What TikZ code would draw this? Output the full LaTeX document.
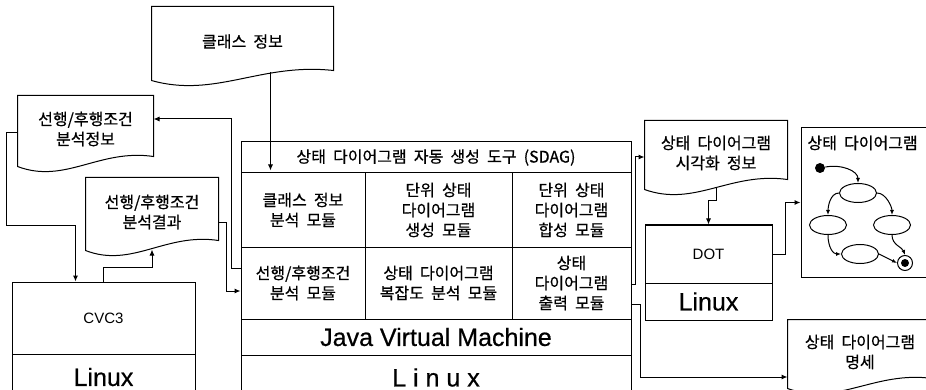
\documentclass[tikz,border=0pt]{standalone}
\usepackage{fontspec}
\setmainfont{Liberation Sans}
\newfontfamily\krfont[WordSpace=2,FakeBold=0.6]{Noto Sans CJK KR}
\newfontfamily\heavyfont[FakeBold=0.6]{Liberation Sans}
\usetikzlibrary{shapes.geometric,arrows.meta,calc}

% document outline with a wavy bottom edge around a named node
\newcommand{\docoutline}[1]{%
  \draw (#1.north west) -- (#1.north east) -- ([yshift=6pt]#1.south east)
    .. controls ($(#1.south west)!0.6!(#1.south east)+(0pt,14pt)$)
    and ($(#1.south west)!0.35!(#1.south east)+(0pt,-22pt)$)
    .. ([yshift=-4pt]#1.south west) -- cycle;}

\begin{document}
\begin{tikzpicture}[x=1pt, y=-1pt, line width=1pt, >={Latex[length=6pt,width=5pt]},
  box/.style={draw, rectangle, inner sep=0pt},
  doc/.style={rectangle, inner sep=0pt, align=center},
  kr/.style={font=\krfont\fontsize{16}{20}\selectfont, align=center},
  big/.style={font=\heavyfont\fontsize{25}{30}\selectfont},
  small/.style={font=\fontsize{15}{18}\selectfont},
  stnode/.style={ellipse, draw, minimum width=37pt, minimum height=19pt, inner sep=0pt},
  startdot/.style={circle, fill=black, minimum size=10pt, inner sep=0pt},
  sarr/.style={-{Latex[length=5pt,width=4pt]}}]
\useasboundingbox (0,0) rectangle (926,390);
\clip (0,0) rectangle (926,390);

% documents
\begin{scope}[every node/.style={doc, kr}]
\node[minimum width=181pt, minimum height=69pt] (cls) at (242.5,41.5) {클래스 정보};
\node[minimum width=135pt, minimum height=66pt] (preinfo) at (85.5,129) {선행/후행조건\\분석정보};
\node[minimum width=132pt, minimum height=68pt] (preres) at (152,212) {선행/후행조건\\분석결과};
\node[minimum width=142pt, minimum height=64pt] (visinfo) at (716,153) {상태 다이어그램\\시각화 정보};
\node[minimum width=144pt, minimum height=64pt] (spec) at (860,352) {상태 다이어그램\\명세};
\end{scope}
\foreach \docname in {cls,preinfo,preres,visinfo,spec} {\docoutline{\docname}}

% SDAG stack
\node[box, kr, minimum width=390pt, minimum height=31pt] (title) at (436,157.5) {상태 다이어그램 자동 생성 도구 (SDAG)};
\node[box, kr, minimum width=124pt, minimum height=74pt] (c11) at (303,210) {클래스 정보\\분석 모듈};
\node[box, kr, minimum width=147pt, minimum height=74pt] (c12) at (438.5,210) {단위 상태\\다이어그램\\생성 모듈};
\node[box, kr, minimum width=119pt, minimum height=74pt] (c13) at (571.5,210) {단위 상태\\다이어그램\\합성 모듈};
\node[box, kr, minimum width=124pt, minimum height=72pt] (c21) at (303,283) {선행/후행조건\\분석 모듈};
\node[box, kr, minimum width=147pt, minimum height=72pt] (c22) at (438.5,283) {상태 다이어그램\\복잡도 분석 모듈};
\node[box, kr, minimum width=119pt, minimum height=72pt] (c23) at (571.5,283) {상태\\다이어그램\\출력 모듈};
\node[box, big, minimum width=390pt, minimum height=36pt] (jvm) at (436,337) {Java Virtual Machine};
\node[box, big, minimum width=390pt, minimum height=45pt] (oslinux) at (436,377.5) {L i n u x};

% CVC3 and DOT
\node[box, small, minimum width=183pt, minimum height=72pt] (cvc) at (103.5,318) {CVC3};
\node[box, big, minimum width=183pt, minimum height=46pt] (cvclinux) at (103.5,377) {Linux};
\node[box, small, minimum width=127pt, minimum height=58pt] (dot) at (708.5,254) {DOT};
\node[box, big, minimum width=127pt, minimum height=37pt] (dotlinux) at (708.5,301.5) {Linux};

% state diagram frame
\node[box, minimum width=139pt, minimum height=149pt] (frame) at (870.5,202.5) {};
\node[kr, anchor=west, inner sep=0pt] (frametitle) at (807,143) {상태 다이어그램};
\node[startdot] (start) at (820,168) {};
\node[stnode] (s1) at (858,193) {};
\node[stnode] (s2) at (828,225) {};
\node[stnode] (s3) at (892,225) {};
\node[stnode] (s4) at (860,254) {};
\node[circle, fill=black, minimum size=8pt, inner sep=0pt] (fin) at (905,263) {};
\node[circle, draw, minimum size=15pt, inner sep=0pt] (finring) at (fin) {};

% connectors
\draw[->, shorten >=3pt] ([xshift=28pt,yshift=4pt]cls.south) coordinate (clsout) -- (clsout |- title.south);
\draw[->] ([yshift=15pt]c21.west) -- ++(-9,0) |- ([yshift=10pt]preinfo.east);
\draw[->] ([yshift=-11pt]preres.east) -- ++(8,0) |- ([yshift=-8pt]c21.west);
\draw[->] ([yshift=-4pt]preinfo.west) -- ++(-11,0) -- ++(0,92) -| ([xshift=-28pt]cvc.north);
\draw[->] (cvc.north) -- ++(0,-14) -| ([yshift=-3pt]preres.south);
\draw[->] ([yshift=-1pt]c23.east) -- ++(4,0) |- ([yshift=-4pt]visinfo.west);
\draw[->] ([yshift=-21pt]c23.east) -- ++(9,0) |- ([yshift=-25pt]spec.west);
\draw[->] ([yshift=-3pt]visinfo.south) -- ++(0,12) -| (dot.north);
\draw[->] (dot.east) -- ++(13,0) |- (frame.west);

% transitions
\begin{scope}[sarr]
\draw (start) .. controls +(22,-4) and +(0,-12) .. (s1.north);
\draw (s1.west) .. controls +(-9,0) and +(0,-8) .. (s2.north);
\draw (s1.east) .. controls +(9,0) and +(0,-8) .. (s3.north);
\draw (s2.south) .. controls +(0,12) and +(-8,0) .. (s4.west);
\draw (s3.south) .. controls +(0,10) and +(-3,-8) .. (finring.north);
\draw (s4.east) -- (finring.west);
\end{scope}
\end{tikzpicture}
\end{document}
